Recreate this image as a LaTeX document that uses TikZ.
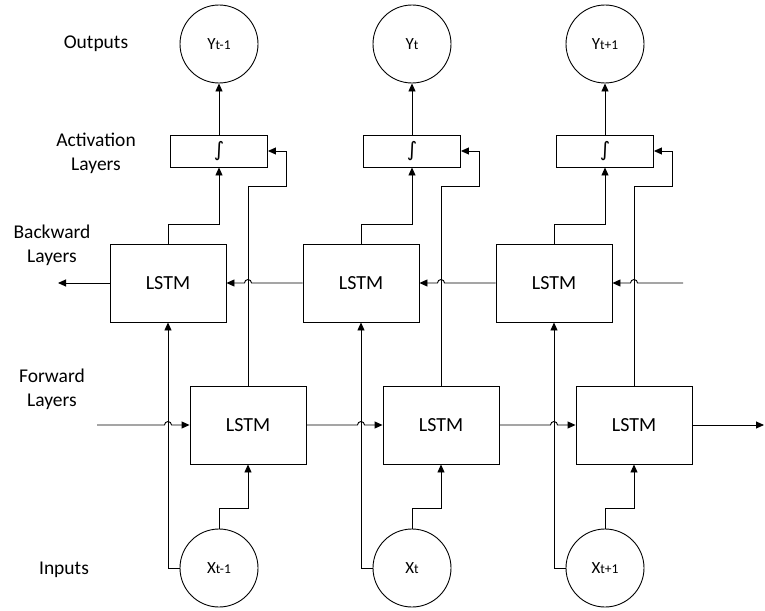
\documentclass[tikz,border=0pt]{standalone}
\usepackage{fontspec}
\setmainfont{Carlito}
\newfontfamily\symfont{DejaVu Sans}
\usetikzlibrary{arrows.meta,calc}
\newcommand{\lbl}[2]{{\fontsize{17}{20}\selectfont #1}{\fontsize{13.5}{16}\selectfont #2}}
\tikzset{
  lstm/.style={draw,line width=0.9pt,minimum width=116pt,minimum height=78pt,inner sep=0pt,font=\fontsize{20}{24}\selectfont},
  actbox/.style={draw,line width=0.9pt,minimum width=97pt,minimum height=32pt,inner sep=0pt,font=\symfont\fontsize{20}{22}\selectfont},
  var/.style={draw,circle,line width=0.9pt,minimum size=78pt,inner sep=0pt},
  lab/.style={align=center,font=\fontsize{19.5}{24}\selectfont,inner sep=0pt},
  arr/.style={line width=0.9pt,-{Triangle[length=8pt,width=7pt]}},
  ln/.style={line width=0.9pt}
}
\begin{document}
\begin{tikzpicture}[x=1pt,y=-1pt]
\useasboundingbox (0,0) rectangle (765,610);
% outputs
\node[var] (Y1) at (219,44) {\lbl{Y}{t-1}};
\node[var] (Y2) at (412,44) {\lbl{Y}{t}};
\node[var] (Y3) at (605,44) {\lbl{Y}{t+1}};
% activation
\node[actbox] (A1) at (219,151) {∫};
\node[actbox] (A2) at (412,151) {∫};
\node[actbox] (A3) at (605,151) {∫};
% backward
\node[lstm] (B1) at (168,283) {LSTM};
\node[lstm] (B2) at (361,283) {LSTM};
\node[lstm] (B3) at (554,283) {LSTM};
% forward
\node[lstm] (F1) at (248,425) {LSTM};
\node[lstm] (F2) at (441,425) {LSTM};
\node[lstm] (F3) at (634,425) {LSTM};
% inputs
\node[var] (X1) at (219,568) {\lbl{X}{t-1}};
\node[var] (X2) at (412,568) {\lbl{X}{t}};
\node[var] (X3) at (605,568) {\lbl{X}{t+1}};
% labels
\node[lab] (lo) at (96,44) {Outputs};
\node[lab] (la) at (96,153) {Activation\\Layers};
\node[lab] (lb) at (52,245) {Backward\\Layers};
\node[lab] (lf) at (52,389) {Forward\\Layers};
\node[lab] (li) at (64,570) {Inputs};
% free ends
\coordinate (fin) at (97,425);
\coordinate (fout) at (764,425);
\coordinate (bin) at (683,283);
\coordinate (bout) at (58,283);
% activation -> outputs
\foreach \i in {1,2,3}{
  \draw[arr] (A\i.north) -- (Y\i.south);
  \draw[arr] (B\i.north) -- ++(0,-19) -| (A\i.south);
  \draw[arr] (F\i.north) -- ++(0,-199) -- ++(38,0) |- (A\i.east);
  \draw[arr] (X\i.west) -| (B\i.south);
  \draw[arr] (X\i.north) -- ++(0,-20) -| (F\i.south);
}
% forward chain with hops
\draw[arr] (fin) -- ([xshift=-3.5pt]B1.south |- fin) arc[start angle=180,end angle=0,radius=3.5pt] -- (F1.west);
\draw[arr] (F1.east) -- ([xshift=-3.5pt]B2.south |- F1.east) arc[start angle=180,end angle=0,radius=3.5pt] -- (F2.west);
\draw[arr] (F2.east) -- ([xshift=-3.5pt]B3.south |- F2.east) arc[start angle=180,end angle=0,radius=3.5pt] -- (F3.west);
\draw[arr] (F3.east) -- (fout);
% backward chain with hops
\draw[arr] (bin) -- ([xshift=3.5pt]F3.north |- bin) arc[start angle=0,end angle=180,radius=3.5pt] -- (B3.east);
\draw[arr] (B3.west) -- ([xshift=3.5pt]F2.north |- B3.west) arc[start angle=0,end angle=180,radius=3.5pt] -- (B2.east);
\draw[arr] (B2.west) -- ([xshift=3.5pt]F1.north |- B2.west) arc[start angle=0,end angle=180,radius=3.5pt] -- (B1.east);
\draw[arr] (B1.west) -- (bout);
\end{tikzpicture}
\end{document}
